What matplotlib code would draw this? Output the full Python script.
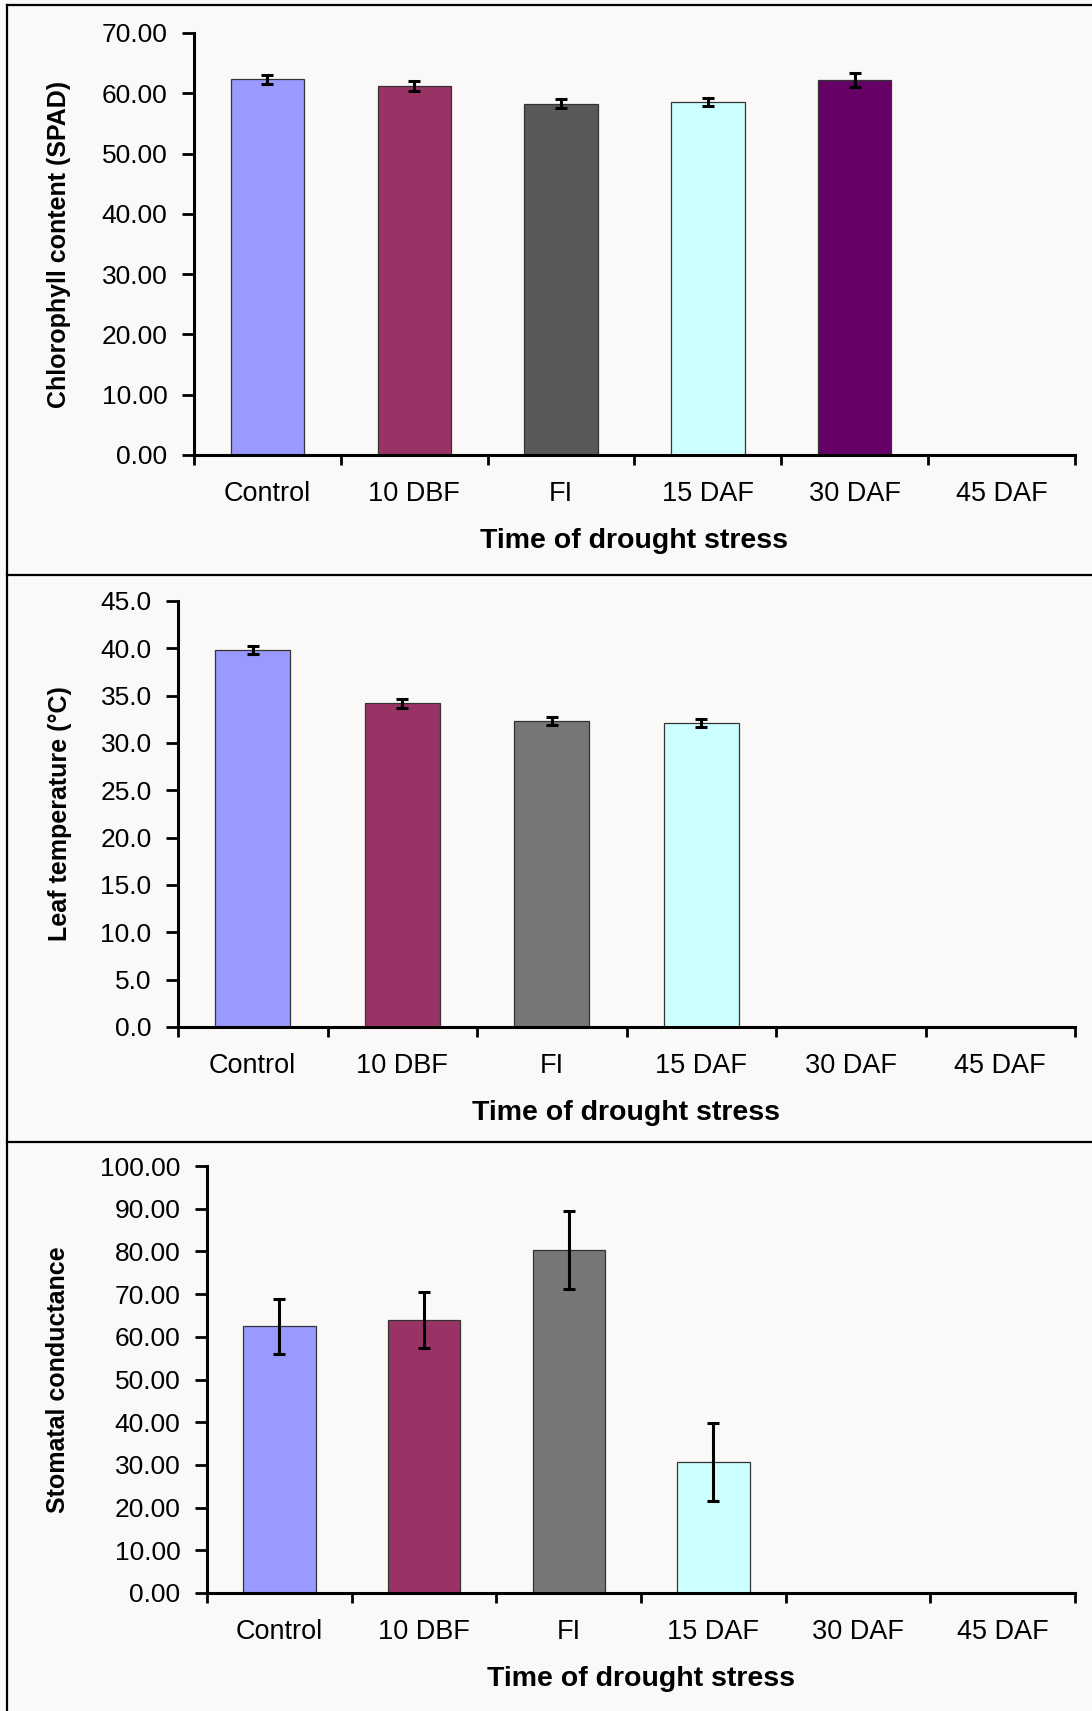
import matplotlib
matplotlib.use('Agg')
import matplotlib.pyplot as plt
from matplotlib.lines import Line2D
import numpy as np

plt.rcParams['font.family'] = ['Liberation Sans', 'DejaVu Sans']

# categories on the x axis
categories = ['Control', '10 DBF', 'FI', '15 DAF', '30 DAF', '45 DAF']

# chlorophyll (SPAD)
chl_mean = [62.3, 61.2, 58.3, 58.6, 62.2]
chl_err = [0.8, 0.8, 0.7, 0.65, 1.1]
chl_colors = ['#9999FF', '#993366', '#595959', '#CCFFFF', '#660066']

# leaf temperature
temp_mean = [39.8, 34.2, 32.3, 32.1]
temp_err = [0.45, 0.45, 0.45, 0.45]
temp_colors = ['#9999FF', '#993366', '#777777', '#CCFFFF']

# stomatal conductance
cond_mean = [62.5, 64.0, 80.3, 30.6]
cond_err = [6.45, 6.55, 9.05, 9.15]
cond_colors = ['#9999FF', '#993366', '#777777', '#CCFFFF']

W, H = 1092, 1711
bg = '#FAF9F7'
fig = plt.figure(figsize=(W / 100, H / 100), dpi=100, facecolor=bg)


def px_axes(left, right, top, bottom):
    # pixel box -> figure fraction
    return fig.add_axes([left / W, 1 - bottom / H, (right - left) / W, (bottom - top) / H])


def draw_panel(ax, means, errs, colors, ymax, ystep, fmt, ylabel, ylab_x):
    x = np.arange(len(means))
    ax.set_facecolor(bg)
    ax.bar(x, means, width=0.5, color=colors, edgecolor='#333333', linewidth=0.9, zorder=2)
    ax.errorbar(x, means, yerr=errs, fmt='none', ecolor='black', elinewidth=2.2,
                capsize=4, capthick=2.2, zorder=3)
    ax.set_xlim(-0.5, len(categories) - 0.5)
    ax.set_ylim(0, ymax)
    ax.set_yticks(np.arange(0, ymax + ystep / 2, ystep))
    ax.set_yticklabels([fmt % v for v in np.arange(0, ymax + ystep / 2, ystep)])
    # Excel style: ticks between categories, labels under the middle
    ax.set_xticks(np.arange(-0.5, len(categories), 1.0))
    ax.set_xticklabels([])
    ax.set_xticks(np.arange(len(categories)), minor=True)
    ax.set_xticklabels(categories, minor=True)
    ax.tick_params(axis='x', which='major', direction='out', length=7, width=2)
    ax.tick_params(axis='x', which='minor', length=0, pad=19, labelsize=19.5)
    ax.tick_params(axis='y', direction='out', length=9, width=2, pad=10, labelsize=19)
    for s in ['top', 'right']:
        ax.spines[s].set_visible(False)
    for s in ['left', 'bottom']:
        ax.spines[s].set_linewidth(2.2)
    ax.set_xlabel('Time of drought stress', fontsize=20.5, fontweight='bold', labelpad=15)
    ax.set_ylabel(ylabel, fontsize=18, fontweight='bold')
    ax.yaxis.label.set_va('center')
    ax.yaxis.set_label_coords(ylab_x, 0.5)


ax1 = px_axes(194, 1075, 33, 455)
draw_panel(ax1, chl_mean, chl_err, chl_colors, 70, 10, '%.2f',
           'Chlorophyll content (SPAD)', (59 - 194) / 881)

ax2 = px_axes(178, 1075, 601, 1027)
draw_panel(ax2, temp_mean, temp_err, temp_colors, 45, 5, '%.1f',
           'Leaf temperature (°C)', (60 - 178) / 897)

ax3 = px_axes(207, 1075, 1166, 1593)
draw_panel(ax3, cond_mean, cond_err, cond_colors, 100, 10, '%.2f',
           'Stomatal conductance', (58 - 207) / 868)

# panel frames
lw = 1.6
fig.add_artist(Line2D([7 / W, 1], [1 - 5 / H, 1 - 5 / H], color='black', lw=lw))
fig.add_artist(Line2D([7 / W, 7 / W], [0, 1 - 5 / H], color='black', lw=lw))
for yy in [575, 1142]:
    fig.add_artist(Line2D([7 / W, 1], [1 - yy / H, 1 - yy / H], color='black', lw=lw))

fig.savefig('out.png', dpi=100, facecolor=bg)
